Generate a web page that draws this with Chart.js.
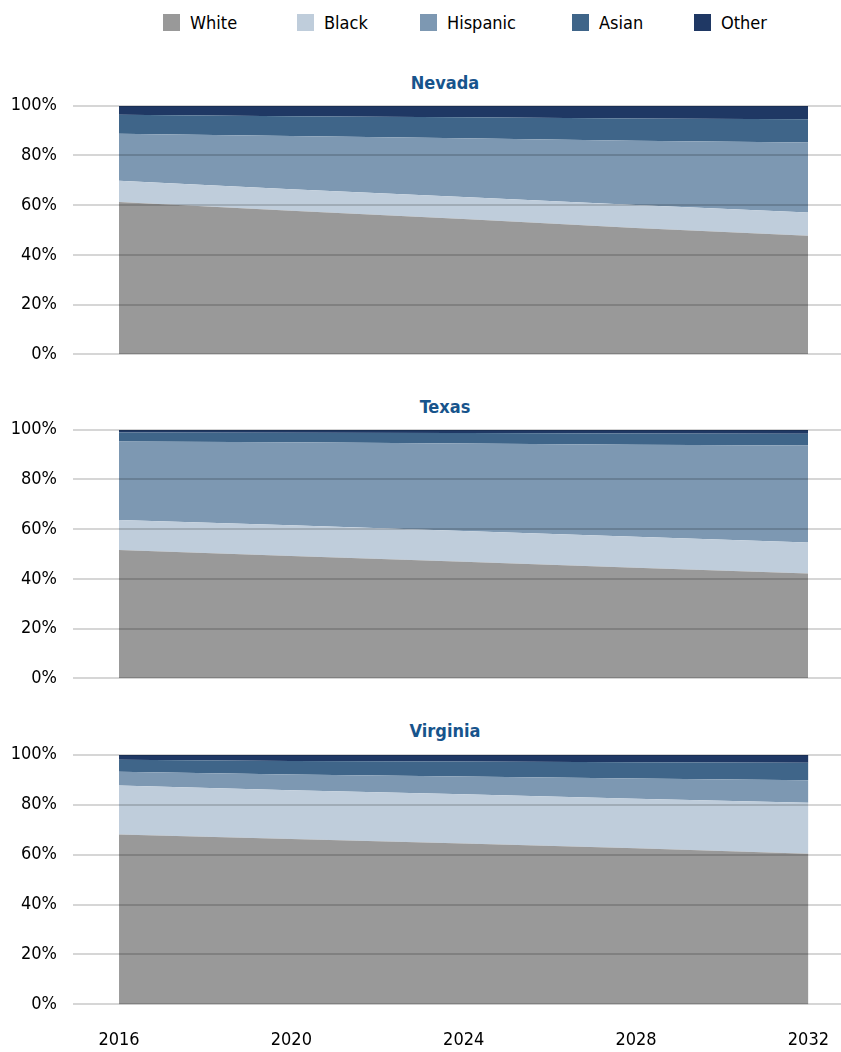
<!DOCTYPE html>
<html>
<head>
<meta charset="utf-8">
<script src="https://cdn.jsdelivr.net/npm/chart.js@4"></script>
<style>
  body { margin: 0; background: #fff; overflow: hidden; }
  #wrap { position: relative; width: 841px; height: 1052px; overflow: hidden; font-family: 'Liberation Sans Narrow', 'DejaVu Sans Condensed', sans-serif; }
  .box { position: absolute; left: 0; width: 841px; }
  .title { position: absolute; left: 345px; width: 200px; text-align: center; font-weight: bold; font-size: 18px; color: #17548c; line-height: 22px; }
  #legend { position: absolute; top: 12px; left: 0; width: 841px; height: 22px; }
  .lg { position: absolute; top: 0; font-size: 18px; line-height: 22px; color: #000; white-space: nowrap; }
  .lg span { display: inline-block; width: 17px; height: 17px; vertical-align: top; margin-top: 2px; margin-right: 10px; }
</style>
</head>
<body>
<div id="wrap">
  <div id="legend"></div>
  <div class="title" style="top:72px">Nevada</div>
  <div class="title" style="top:396px">Texas</div>
  <div class="title" style="top:720px">Virginia</div>
  <div class="box" style="top:79px;height:302px"><canvas id="c0"></canvas></div>
  <div class="box" style="top:403px;height:302px"><canvas id="c1"></canvas></div>
  <div class="box" style="top:728px;height:340px;width:846px"><canvas id="c2"></canvas></div>
</div>
<script>
// --- data (percent share of population) ---
const years = [2016, 2020, 2024, 2028, 2032];
const groups = ['White', 'Black', 'Hispanic', 'Asian', 'Other'];
const groupColors = ['#999999', '#bfcddb', '#7d98b2', '#3f6589', '#1f3864'];
const yTicks = [0, 20, 40, 60, 80, 100];

const nevadaWhite    = [61.3, 57.7, 54.4, 50.8, 47.7];
const nevadaBlack    = [8.5, 8.7, 8.9, 9.3, 9.3];
const nevadaHispanic = [18.9, 21.4, 23.6, 25.8, 28.2];
const nevadaAsian    = [7.7, 8.0, 8.5, 9.0, 9.4];
const nevadaOther    = [3.6, 4.2, 4.6, 5.1, 5.4];

const texasWhite    = [51.6, 49.2, 46.9, 44.5, 42.2];
const texasBlack    = [12.1, 12.4, 12.4, 12.4, 12.4];
const texasHispanic = [31.6, 33.4, 35.2, 37.1, 39.1];
const texasAsian    = [3.6, 3.8, 4.2, 4.5, 4.7];
const texasOther    = [1.1, 1.2, 1.3, 1.5, 1.6];

const virginiaWhite    = [68.1, 66.3, 64.5, 62.6, 60.4];
const virginiaBlack    = [19.6, 19.5, 19.7, 19.8, 20.4];
const virginiaHispanic = [5.5, 6.3, 7.1, 8.1, 9.0];
const virginiaAsian    = [4.8, 5.4, 6.0, 6.5, 7.0];
const virginiaOther    = [2.0, 2.5, 2.7, 3.0, 3.2];

const states = [
    [nevadaWhite, nevadaBlack, nevadaHispanic, nevadaAsian, nevadaOther],
    [texasWhite, texasBlack, texasHispanic, texasAsian, texasOther],
    [virginiaWhite, virginiaBlack, virginiaHispanic, virginiaAsian, virginiaOther]
];

const FONT = "'Liberation Sans Narrow', 'DejaVu Sans Condensed', sans-serif";

// legend (html)
const legendX = [163, 297, 420, 572, 694];
const legend = document.getElementById('legend');
groups.forEach((g, i) => {
    const d = document.createElement('div');
    d.className = 'lg';
    d.style.left = legendX[i] + 'px';
    d.innerHTML = '<span style="background:' + groupColors[i] + '"></span>' + g;
    legend.appendChild(d);
});

states.forEach((series, idx) => {
    const last = idx === states.length - 1;
    const datasets = series.map((vals, i) => ({
        label: groups[i],
        data: vals.map((v, j) => ({ x: years[j], y: v })),
        backgroundColor: groupColors[i],
        borderWidth: 0,
        pointRadius: 0,
        tension: 0,
        fill: i === 0 ? 'origin' : '-1'
    }));

    new Chart(document.getElementById('c' + idx), {
        type: 'line',
        data: { datasets: datasets },
        options: {
            responsive: true,
            maintainAspectRatio: false,
            animation: false,
            layout: { padding: 0 },
            plugins: { legend: { display: false }, tooltip: { enabled: false } },
            scales: {
                x: {
                    type: 'linear',
                    min: 2014.932,
                    max: 2032.766,
                    display: last,
                    afterBuildTicks: s => { s.ticks = years.map(v => ({ value: v })); },
                    grid: { display: false },
                    border: { display: false },
                    ticks: {
                        padding: 17,
                        color: '#000',
                        font: { family: FONT, size: 18 },
                        maxRotation: 0,
                        callback: v => String(v)
                    }
                },
                y: {
                    stacked: true,
                    min: 0,
                    max: 100,
                    afterFit: s => { s.width = 73; },
                    afterBuildTicks: s => { s.ticks = yTicks.map(v => ({ value: v })); },
                    grid: { color: 'rgba(0,0,0,0.16)', lineWidth: 2, drawTicks: false, z: 1 },
                    border: { display: false },
                    ticks: {
                        padding: 16,
                        color: '#000',
                        font: { family: FONT, size: 18 },
                        callback: v => v + '%'
                    }
                }
            }
        }
    });
});
</script>
</body>
</html>
